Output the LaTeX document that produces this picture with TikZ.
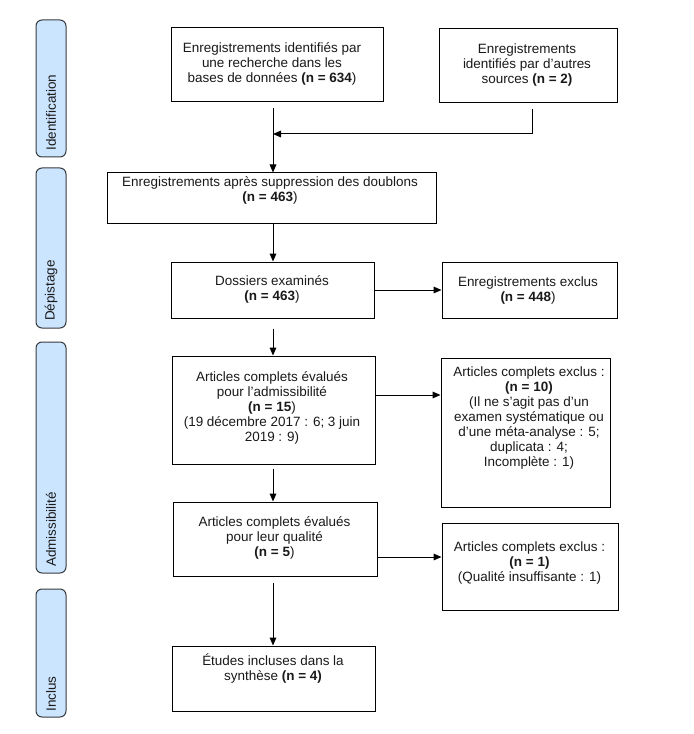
\documentclass[tikz,border=0pt]{standalone}
\usepackage{fontspec}
\setmainfont{Liberation Sans}
\usetikzlibrary{arrows.meta}
\definecolor{barfill}{HTML}{CCE5FF}
\definecolor{barline}{HTML}{36393D}
\definecolor{txt}{HTML}{1A1A1A}
\begin{document}
\begin{tikzpicture}[x=0.75pt,y=-0.75pt,
  box/.style={draw=black, line width=0.75pt, fill=white, inner sep=0pt},
  boxtext/.style={align=center, inner sep=0pt, text=txt, font=\fontsize{10.1}{11.25}\selectfont},
  bar/.style={draw=barline, fill=barfill, rounded corners=4.5pt, line width=0.75pt, inner sep=0pt, rotate=90, minimum height=22.5pt},
  barlabel/.style={rotate=90, anchor=west, inner sep=0pt, text=txt, font=\fontsize{10.1}{11.25}\selectfont},
  arr/.style={-{Triangle[length=6pt,width=5pt]}, line width=0.75pt, draw=black},
  ln/.style={line width=0.75pt, draw=black}]
\useasboundingbox (0,0) rectangle (693,734);

% side bars
\node[bar, minimum width=102.75pt] (s1) at (51,88.5) {};
\node[bar, minimum width=120pt] (s2) at (51,248) {};
\node[bar, minimum width=173.25pt] (s3) at (51,457.5) {};
\node[bar, minimum width=96pt] (s4) at (51,653) {};
\node[barlabel] (l1) at (51,150.5) {Identification};
\node[barlabel] (l2) at (51,321) {Dépistage};
\node[barlabel] (l3) at (51,567) {Admissibilité};
\node[barlabel] (l4) at (51,712) {Inclus};

% boxes
\node[box, minimum width=159pt, minimum height=55.5pt] (b1) at (277,65) {};
\node[box, minimum width=133.5pt, minimum height=55.5pt] (b2) at (528,66) {};
\node[box, minimum width=246.75pt, minimum height=37.5pt] (b3) at (271.5,198) {};
\node[box, minimum width=152.25pt, minimum height=42pt] (b4) at (272.5,290) {};
\node[box, minimum width=131.25pt, minimum height=42pt] (b5) at (529.5,290) {};
\node[box, minimum width=152.25pt, minimum height=81pt] (b6) at (273.5,410) {};
\node[box, minimum width=126.75pt, minimum height=111.75pt] (b7) at (525.5,432.5) {};
\node[box, minimum width=153pt, minimum height=55.5pt] (b8) at (275,539) {};
\node[box, minimum width=132pt, minimum height=65.25pt] (b9) at (530,566.5) {};
\node[box, minimum width=152.25pt, minimum height=48.75pt] (b10) at (273.5,678.5) {};

% texts
\node[boxtext] (t1) at (272,64) {Enregistrements identifiés par\\une recherche dans les\\bases de données \textbf{(n = 634})};
\node[boxtext] (t2) at (527,65) {Enregistrements\\identifiés par d’autres\\sources \textbf{(n = 2)}};
\node[boxtext] (t3) at (270,190.5) {Enregistrements après suppression des doublons\\\textbf{(n = 463})};
\node[boxtext] (t4) at (272,289.5) {Dossiers examinés\\\textbf{(n = 463})};
\node[boxtext] (t5) at (528,291) {Enregistrements exclus\\\textbf{(n = 448})};
\node[boxtext] (t6) at (272,408) {Articles complets évalués\\pour l’admissibilité\\\textbf{(n = 15})\\(19 décembre 2017 : 6; 3 juin\\2019 : 9)};
\node[boxtext] (t7) at (529,418.5) {Articles complets exclus :\\\textbf{(n = 10)}\\ (Il ne s’agit pas d’un\\examen systématique ou\\d’une méta-analyse : 5;\\duplicata : 4;\\Incomplète : 1)};
\node[boxtext] (t8) at (274.5,537.5) {Articles complets évalués\\pour leur qualité\\\textbf{(n = 5})};
\node[boxtext] (t9) at (529.5,563.5) {Articles complets exclus :\\\textbf{(n = 1)}\\(Qualité insuffisante : 1)};
\node[boxtext] (t10) at (273,668.5) {Études incluses dans la\\synthèse \textbf{(n = 4)}};

% connectors
\coordinate (ax) at (273,0);
\coordinate (mj) at (532,134);
\coordinate (r1) at (0,395);
\coordinate (r2) at (0,557);
\draw[arr, shorten <=4.5pt] (b1.south -| ax) -- (b3.north -| ax);
\draw[arr, shorten <=4pt] (b2.south -| mj) -- (mj) -- (mj -| ax);
\draw[arr] (b3.south -| ax) -- (b4.north -| ax);
\draw[arr] (b4.east) -- (b5.west);
\draw[arr, shorten <=7.5pt] (b4.south -| ax) -- (b6.north -| ax);
\draw[arr] (b6.east |- r1) -- (b7.west |- r1);
\draw[arr, shorten <=3pt] (b6.south -| ax) -- (b8.north -| ax);
\draw[arr] (b8.east |- r2) -- (b9.west |- r2);
\draw[arr, shorten <=5pt] (b8.south -| ax) -- (b10.north -| ax);
\end{tikzpicture}
\end{document}
